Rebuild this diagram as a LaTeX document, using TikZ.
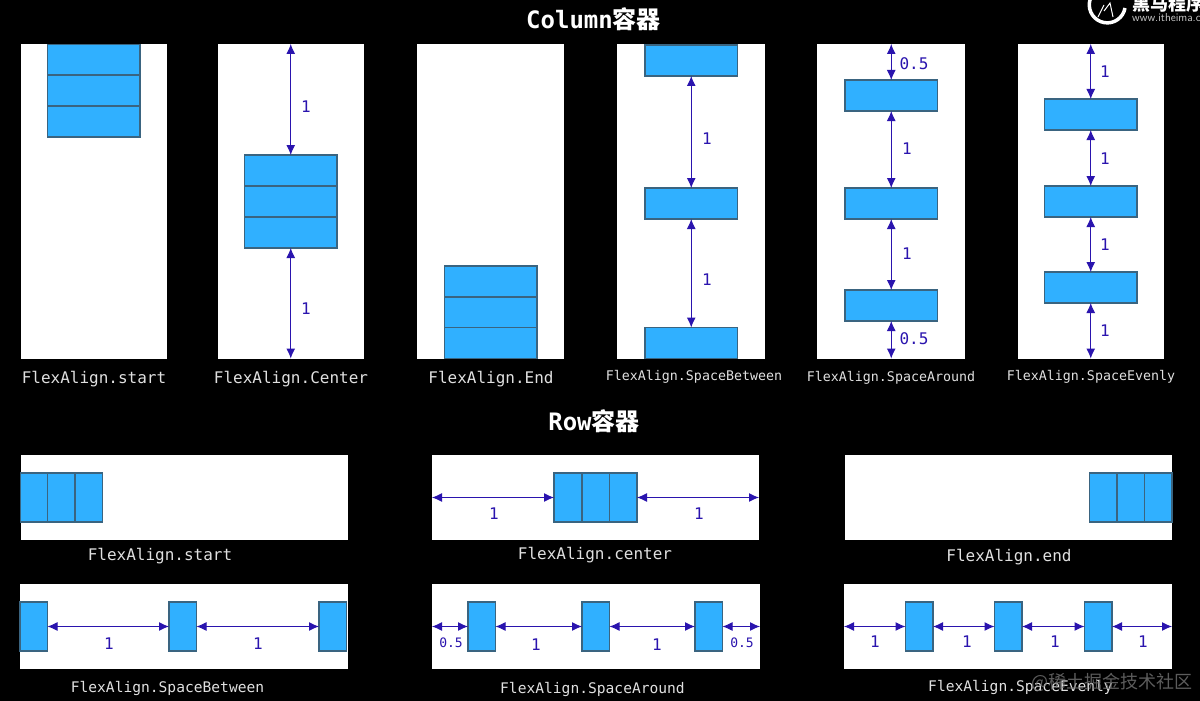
\documentclass[tikz,border=0pt]{standalone}
\usepackage{fontspec}
\usepackage{tikz}
\usetikzlibrary{arrows.meta}
\newfontfamily\monofont{DejaVu Sans Mono}
\newfontfamily\cjkfont{Noto Sans CJK SC}

\definecolor{boxblue}{HTML}{30B0FF}
\definecolor{boxline}{HTML}{3A6480}
\definecolor{dimblue}{HTML}{2A14AE}

\tikzset{
  panel/.style={fill=white, anchor=north west, inner sep=0, outer sep=0},
  colbox/.style={draw=boxline, fill=boxblue, line width=1.5, anchor=north west, inner sep=0, outer sep=0, minimum width=92.5, minimum height=31},
  rowbox/.style={draw=boxline, fill=boxblue, line width=1.5, anchor=north west, inner sep=0, outer sep=0, minimum width=27.5, minimum height=49},
  dim/.style={draw=dimblue, line width=1, {Latex[length=10,width=9]}-{Latex[length=10,width=9]}},
  dimtext/.style={text=dimblue, font=\monofont\fontsize{16}{16}\selectfont, inner sep=0},
  caption/.style={text=white!88!black, font=\monofont\fontsize{#1}{#1}\selectfont, inner sep=0},
  heading/.style={text=white, font=\monofont\bfseries\fontsize{24}{24}\selectfont, inner sep=0}
}

\begin{document}
\begin{tikzpicture}[x=1pt,y=-1pt]
  \useasboundingbox (0,0) rectangle (1200,701);
  \clip (0,0) rectangle (1200,701);
  \fill[black] (0,0) rectangle (1200,701);

  \foreach \n / \x / \w in {1/21/146,2/218/146,3/417/147,4/617/148,5/817/148,6/1018/146} {
    \node[panel, minimum width=\w, minimum height=314.5] (colpanel\n) at (\x,44) {};
  };
  \foreach \n / \x / \y / \w in {1/21/455/327,2/432/455/327,3/845/455/327,4/20/584/328,5/432/584/328,6/844/584/328} {
    \node[panel, minimum width=\w, minimum height=85] (rowpanel\n) at (\x,\y) {};
  };

  \foreach \n / \x / \y in {1a/47.5/44.5,1b/47.5/75,1c/47.5/106,2a/244.5/155,2b/244.5/186,2c/244.5/217,3a/444.5/266,3b/444.5/297,3c/444.5/327.5,
      4a/645/45,4b/645/188,4c/645/327.5,5a/845/80,5b/845/188,5c/845/290,6a/1044.5/99,6b/1044.5/186,6c/1044.5/272} {
    \node[colbox] (colbox\n) at (\x,\y) {};
  };
  \foreach \n / \x / \y in {1a/20.5/473,1b/47.5/473,1c/75/473,2a/554/473,2b/582/473,2c/609.5/473,3a/1089.5/473,3b/1117/473,3c/1144.5/473,
      4a/20/602,4b/169/602,4c/319/602,5a/468/602,5b/582/602,5c/695/602,6a/905.5/602,6b/994.5/602,6c/1084.5/602} {
    \node[rowbox] (rowbox\n) at (\x,\y) {};
  };

  % vertical gaps
  \foreach \s / \e / \t / \lx / \ly [count=\i] in {
      colbox2a.north/colpanel2.north/1/306/107, colbox2c.south/colpanel2.south/1/306/309,
      colbox4a.south/colbox4b.north/1/707/139, colbox4b.south/colbox4c.north/1/707/280,
      colbox5a.north/colpanel5.north/0.5/914/64, colbox5a.south/colbox5b.north/1/907/149,
      colbox5b.south/colbox5c.north/1/907/254, colbox5c.south/colpanel5.south/0.5/914/339,
      colbox6a.north/colpanel6.north/1/1105/72, colbox6a.south/colbox6b.north/1/1105/159,
      colbox6b.south/colbox6c.north/1/1105/245, colbox6c.south/colpanel6.south/1/1105/331} {
    \draw[dim] (\s) -- (\s |- \e);
    \node[dimtext] (vdim\i) at (\lx,\ly) {\t};
  };

  % horizontal gaps
  \foreach \s / \e / \t / \lx / \ly [count=\i] in {
      rowbox2a.west/rowpanel2.west/1/494/514, rowbox2c.east/rowpanel2.east/1/699/514,
      rowbox4a.east/rowbox4b.west/1/109/644, rowbox4b.east/rowbox4c.west/1/258/644,
      rowbox5a.east/rowbox5b.west/1/536/645, rowbox5b.east/rowbox5c.west/1/657/645,
      rowbox6a.west/rowpanel6.west/1/875/642, rowbox6a.east/rowbox6b.west/1/967/642,
      rowbox6b.east/rowbox6c.west/1/1055/642, rowbox6c.east/rowpanel6.east/1/1143/642} {
    \draw[dim] (\s) -- (\s -| \e);
    \node[dimtext] (hdim\i) at (\lx,\ly) {\t};
  };
  \draw[dim] (rowbox5a.west) -- (rowbox5a.west -| rowpanel5.west);
  \draw[dim] (rowbox5c.east) -- (rowbox5c.east -| rowpanel5.east);
  \node[dimtext, font=\monofont\fontsize{13}{13}\selectfont] (hdimleft) at (451,643) {0.5};
  \node[dimtext, font=\monofont\fontsize{13}{13}\selectfont] (hdimright) at (742,643) {0.5};

  \node[heading] (coltitle) at (593.5,19) {Column{\cjkfont\bfseries 容器}};
  \node[heading] (rowtitle) at (594,421) {Row{\cjkfont\bfseries 容器}};

  \foreach \x / \y / \s / \t [count=\i] in {
      94/379.5/16/FlexAlign.start, 291/379.5/16/FlexAlign.Center, 491/379.5/16/FlexAlign.End,
      694/377/13.3/FlexAlign.SpaceBetween, 891/377.5/13.3/FlexAlign.SpaceAround, 1091/377/13.3/FlexAlign.SpaceEvenly,
      160/556.5/16/FlexAlign.start, 595/555.5/16/FlexAlign.center, 1009/557.5/16/FlexAlign.end,
      167.5/688/14.6/FlexAlign.SpaceBetween, 592.5/689/14.6/FlexAlign.SpaceAround, 1020.5/687/14.6/FlexAlign.SpaceEvenly} {
    \node[caption=\s] (cap\i) at (\x,\y) {\t};
  };

  % logo in the corner
  \draw[white, line width=3.5] (1125,8) arc[start angle=10, end angle=265, radius=18];
  \draw[white, line width=1] (1098,17) -- (1104,5) (1104,11) -- (1110,3) -- (1113,17);
  \node[anchor=west, text=white, inner sep=0, font=\cjkfont\bfseries\fontsize{18}{18}\selectfont] (logotext) at (1132,4) {黑马程序员};
  \node[anchor=west, text=white!78!black, inner sep=0, font=\sffamily\fontsize{11.5}{11.5}\selectfont] (logourl) at (1132,18) {www.itheima.com};

  \node[anchor=east, text=white!45!black, inner sep=0, font=\cjkfont\fontsize{18}{18}\selectfont, opacity=.8] (watermark) at (1193,682) {@稀土掘金技术社区};
\end{tikzpicture}
\end{document}
